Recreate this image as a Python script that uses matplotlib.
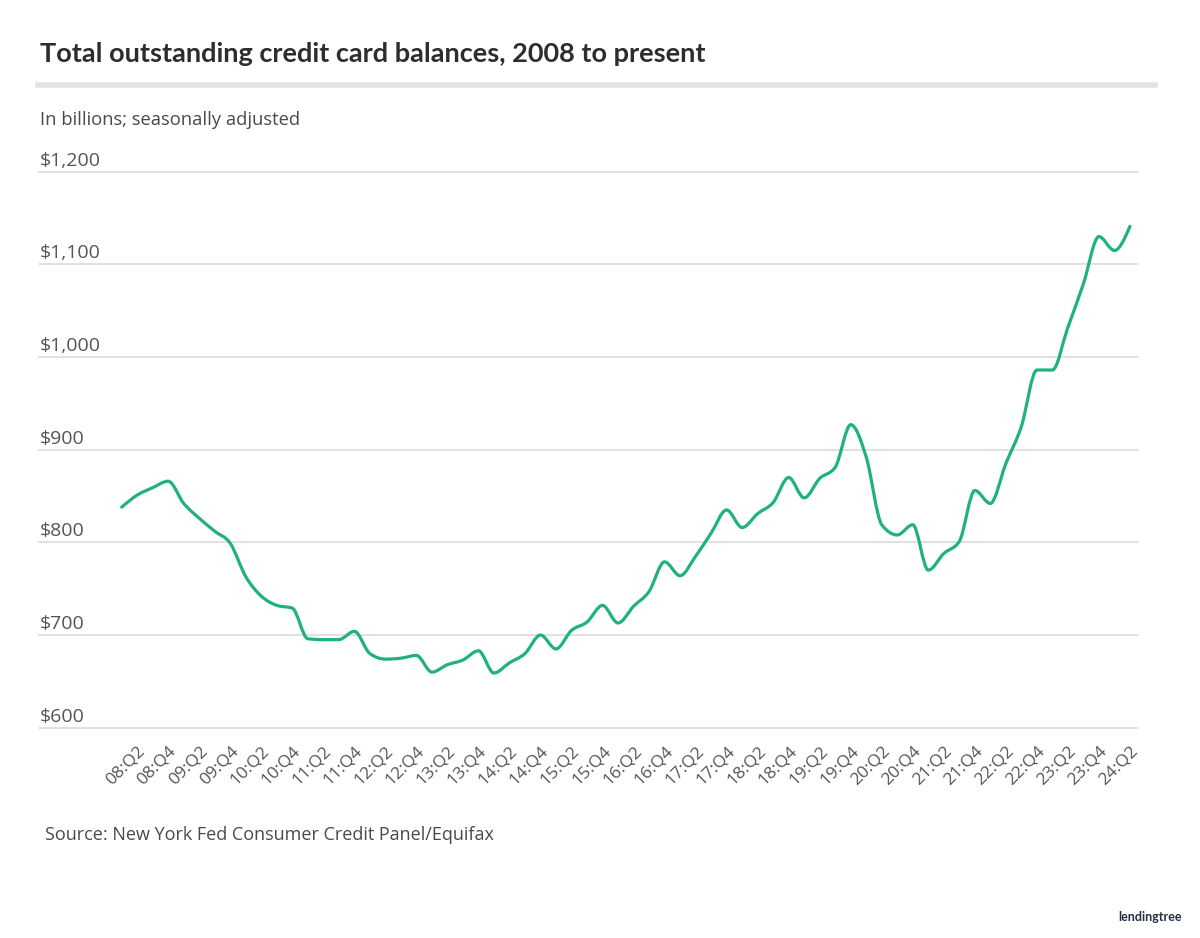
import numpy as np
import matplotlib
matplotlib.use("Agg")
import matplotlib.pyplot as plt
from matplotlib.path import Path
from matplotlib.patches import PathPatch
from matplotlib.lines import Line2D
from matplotlib.transforms import ScaledTranslation, blended_transform_factory

# ---------------- data ----------------
years = list(range(8, 25))
quarters = [f"{y:02d}:Q{q}" for y in years for q in range(1, 5)][:66]  # 08:Q1 .. 24:Q2

balances = [838, 851, 859, 866, 842, 826, 812, 799, 763, 742, 732, 729,
            696, 695, 695, 704, 680, 674, 675, 678, 660, 668, 673, 683,
            659, 670, 680, 700, 685, 705, 714, 732, 713, 731, 747, 779,
            764, 785, 810, 835, 816, 831, 843, 870, 848, 869, 881, 927,
            892, 819, 808, 819, 770, 788, 801, 856, 842, 885, 925, 986,
            986, 1032, 1079, 1130, 1115, 1141]

tick_labels = ["08:Q2", "08:Q4", "09:Q2", "09:Q4", "10:Q2", "10:Q4", "11:Q2", "11:Q4",
               "12:Q2", "12:Q4", "13:Q2", "13:Q4", "14:Q2", "14:Q4", "15:Q2", "15:Q4",
               "16:Q2", "16:Q4", "17:Q2", "17:Q4", "18:Q2", "18:Q4", "19:Q2", "19:Q4",
               "20:Q2", "20:Q4", "21:Q2", "21:Q4", "22:Q2", "22:Q4", "23:Q2", "23:Q4",
               "24:Q2"]

y_ticks = [600, 700, 800, 900, 1000, 1100, 1200]
y_tick_labels = ["$600", "$700", "$800", "$900", "$1,000", "$1,100", "$1,200"]

title = "Total outstanding credit card balances, 2008 to present"
subtitle = "In billions; seasonally adjusted"
source = "Source: New York Fed Consumer Credit Panel/Equifax"

# ---------------- styling ----------------
GREEN = "#1fb27a"
GRID = "#d9d9d9"
TXT = "#555555"

fig = plt.figure(figsize=(12, 9.38), dpi=100)
ax = fig.add_axes([0.0325, 0.22223, 0.91583, 0.59670])
ax.set_xlim(-5.33, 65.52)
ax.set_ylim(598, 1202)
for s in ax.spines.values():
    s.set_visible(False)

# monotone-x cubic (smooth rendering of the data)
x = np.arange(len(balances), dtype=float)
y = np.asarray(balances, dtype=float)
n = len(x)
h = np.diff(x)
s = np.diff(y) / h
t = np.zeros(n)
for i in range(1, n - 1):
    h0, h1, s0, s1 = h[i - 1], h[i], s[i - 1], s[i]
    p = (s0 * h1 + s1 * h0) / (h0 + h1)
    t[i] = (np.sign(s0) + np.sign(s1)) * min(abs(s0), abs(s1), 0.5 * abs(p))
t[0] = (3 * s[0] - t[1]) / 2
t[-1] = (3 * s[-1] - t[-2]) / 2
verts = [(x[0], y[0])]
codes = [Path.MOVETO]
for i in range(n - 1):
    dx = (x[i + 1] - x[i]) / 3
    verts += [(x[i] + dx, y[i] + dx * t[i]),
              (x[i + 1] - dx, y[i + 1] - dx * t[i + 1]),
              (x[i + 1], y[i + 1])]
    codes += [Path.CURVE4] * 3
patch = PathPatch(Path(verts, codes), fill=False, edgecolor=GREEN, lw=2.3,
                  capstyle="round", joinstyle="round", zorder=3)
ax.add_patch(patch)

# grid
ax.set_yticks(y_ticks)
ax.set_yticklabels([""] * len(y_ticks))
ax.yaxis.grid(True, color=GRID, lw=1.1)
for gl in ax.get_ygridlines():
    gl.set_clip_on(False)
ax.tick_params(axis="y", length=0)

blend = blended_transform_factory(ax.transAxes, ax.transData)
for v, lab in zip(y_ticks, y_tick_labels):
    ax.text(0.0, v, lab, transform=blend + ScaledTranslation(0.01, 0.06, fig.dpi_scale_trans),
            ha="left", va="baseline", fontsize=14, color=TXT, family="Open Sans")

# x ticks
tick_pos = [quarters.index(l) for l in tick_labels]
ax.set_xticks(tick_pos)
ax.set_xticklabels(tick_labels, rotation=45, ha="right", va="top",
                   rotation_mode="anchor", fontsize=12.5, color=TXT, family="Open Sans")
ax.tick_params(axis="x", length=0, pad=9.5)
for lab in ax.get_xticklabels():
    lab.set_transform(lab.get_transform() + ScaledTranslation(0.0, 0, fig.dpi_scale_trans))

# header / footer
W, H = 1200, 938
fig.text(40 / W, 1 - 61.7 / H, title, fontsize=19.55, fontweight="bold", family="Lato",
         color="#2d2d2d", va="baseline", ha="left")
fig.add_artist(Line2D([38 / W, 1155 / W], [1 - 85.5 / H] * 2, color="#e3e3e3", lw=4))
fig.text(40 / W, 1 - 125 / H, subtitle, fontsize=13.2, family="Open Sans",
         color="#4a4a4a", va="baseline", ha="left")
fig.text(45 / W, 1 - 840 / H, source, fontsize=13.0, family="Open Sans",
         color="#4a4a4a", va="baseline", ha="left")
fig.text(1118 / W, 1 - 921 / H, "lendingtree", fontsize=9, fontweight="bold",
         family="Lato", color="#23303f", va="baseline", ha="left")

fig.savefig("out.png", dpi=100, facecolor="white")
